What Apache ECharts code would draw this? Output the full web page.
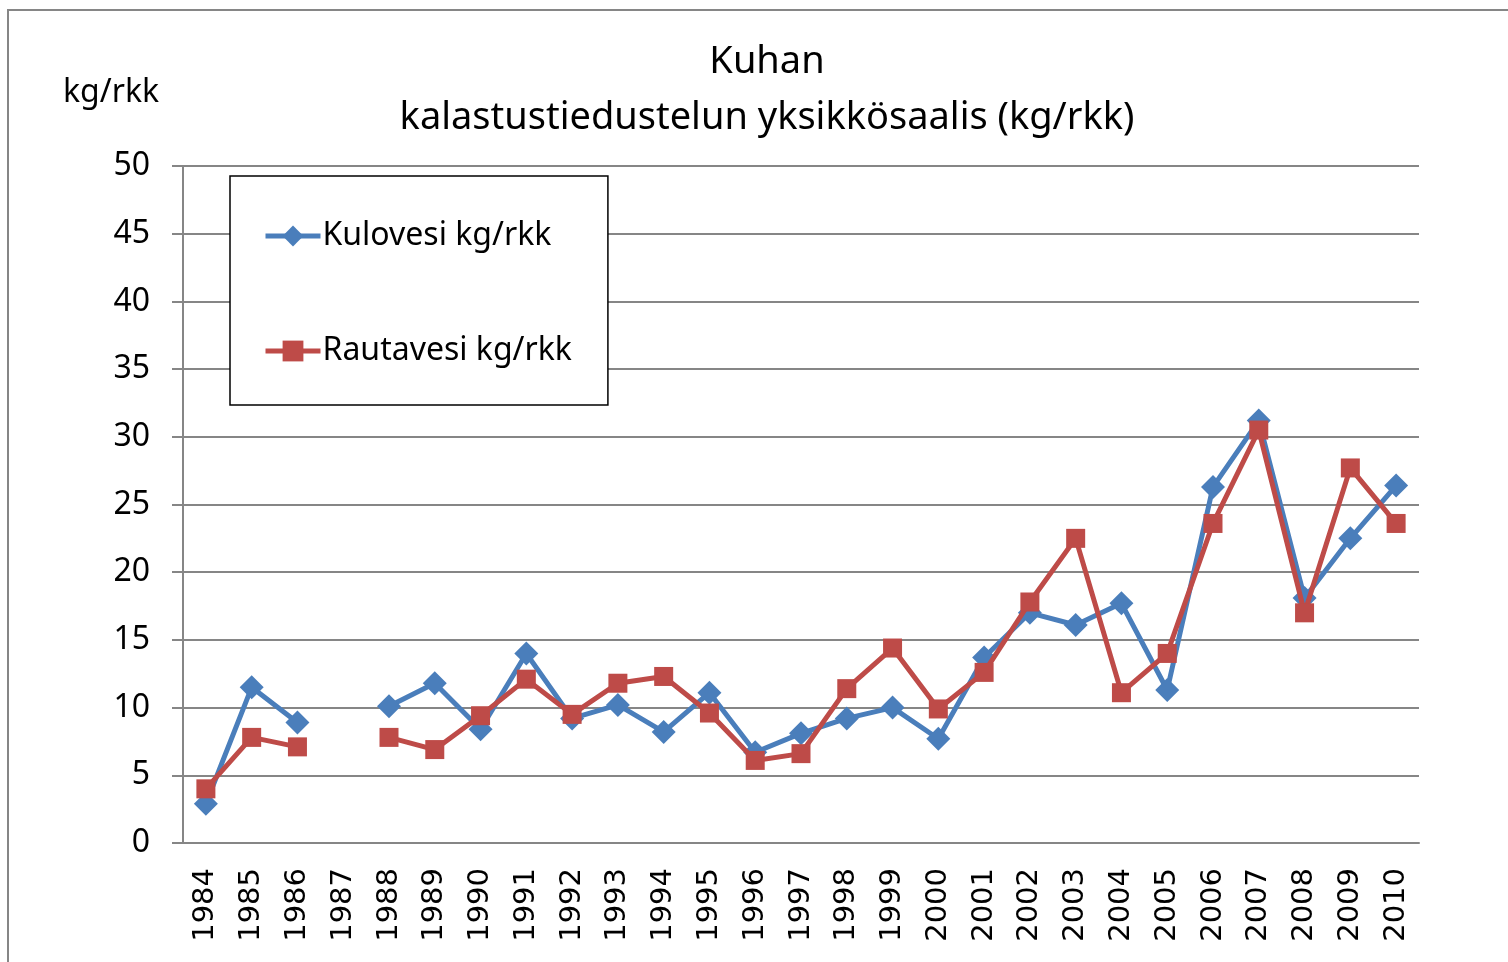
<!DOCTYPE html>
<html>
<head>
<meta charset="utf-8">
<title>Kuhan yksikkösaalis</title>
<script src="https://cdn.jsdelivr.net/npm/echarts@6/dist/echarts.min.js"></script>
<style>
  html, body { margin: 0; padding: 0; background: #fff; }
  #chart { width: 1508px; height: 962px; }
</style>
</head>
<body>
<div id="chart"></div>
<script>
// vuodet (1987 puuttuu)
var years = ["1984", "1985", "1986", "1987", "1988", "1989", "1990", "1991", "1992",
  "1993", "1994", "1995", "1996", "1997", "1998", "1999", "2000", "2001", "2002",
  "2003", "2004", "2005", "2006", "2007", "2008", "2009", "2010"];

var kulovesi = [2.9, 11.5, 8.9, null, 10.1, 11.8, 8.4, 14.0, 9.2,
  10.2, 8.2, 11.1, 6.7, 8.1, 9.2, 10.0, 7.7, 13.7, 17.0,
  16.1, 17.7, 11.3, 26.3, 31.2, 18.1, 22.5, 26.4];

var rautavesi = [4.0, 7.8, 7.1, null, 7.8, 6.9, 9.4, 12.1, 9.5,
  11.8, 12.3, 9.6, 6.1, 6.6, 11.4, 14.4, 9.9, 12.6, 17.8,
  22.5, 11.1, 14.0, 23.6, 30.5, 17.0, 27.7, 23.6];

var font = "Noto Sans";
var gray = "#868686";

var myChart = echarts.init(document.getElementById("chart"));
var option = {
  animation: false,
  backgroundColor: "#fff",
  title: [
    {
      text: "Kuhan\nkalastustiedustelun yksikkösaalis (kg/rkk)",
      left: 762,
      top: 29,
      textAlign: "center",
      textStyle: {
        fontFamily: font,
        fontSize: 38,
        fontWeight: "normal",
        color: "#000",
        lineHeight: 56,
      },
    },
    {
      text: "kg/rkk",
      left: 58,
      top: 72,
      textStyle: {
        fontFamily: font,
        fontSize: 32,
        fontWeight: "normal",
        color: "#000",
      },
    },
  ],
  graphic: [
    {
      type: "rect",
      shape: { x: 8, y: 10, width: 1600, height: 1000 },
      style: { fill: "none", stroke: gray, lineWidth: 2 },
      silent: true,
    },
  ],
  legend: {
    orient: "vertical",
    left: 230,
    top: 176,
    padding: [44, 36, 38, 33],
    itemGap: 83,
    itemWidth: 55,
    itemHeight: 26,
    borderColor: "#000",
    borderWidth: 1.5,
    backgroundColor: "#fff",
    lineStyle: { width: 5 },
    textStyle: {
      fontFamily: font,
      fontSize: 32,
      color: "#000",
      padding: [0, 0, 0, -3],
    },
  },
  grid: {
    left: 183,
    right: 89,
    top: 166,
    bottom: 119,
    containLabel: false,
  },
  xAxis: {
    type: "category",
    data: years,
    boundaryGap: true,
    axisLine: { lineStyle: { color: gray, width: 2 } },
    axisTick: { show: false },
    axisLabel: {
      rotate: 90,
      margin: 25,
      interval: 0,
      fontFamily: "DejaVu Sans",
      fontSize: 29,
      color: "#000",
    },
  },
  yAxis: {
    type: "value",
    min: 0,
    max: 50,
    interval: 5,
    axisLine: { show: true, lineStyle: { color: gray, width: 2 } },
    axisTick: { show: true, length: 11, lineStyle: { color: gray, width: 2 } },
    splitLine: { lineStyle: { color: gray, width: 2 } },
    axisLabel: {
      margin: 33,
      fontFamily: font,
      fontSize: 32,
      color: "#000",
    },
  },
  series: [
    {
      name: "Kulovesi kg/rkk",
      type: "line",
      data: kulovesi,
      symbol: "diamond",
      symbolSize: 24,
      color: "#4a7ebb",
      lineStyle: { width: 5, color: "#4a7ebb" },
      itemStyle: { color: "#4a7ebb" },
      connectNulls: false,
      z: 2,
    },
    {
      name: "Rautavesi kg/rkk",
      type: "line",
      data: rautavesi,
      symbol: "rect",
      symbolSize: 19,
      color: "#be4b48",
      lineStyle: { width: 5, color: "#be4b48" },
      itemStyle: { color: "#be4b48" },
      connectNulls: false,
      z: 3,
    },
  ],
};
myChart.setOption(option);
</script>
</body>
</html>
